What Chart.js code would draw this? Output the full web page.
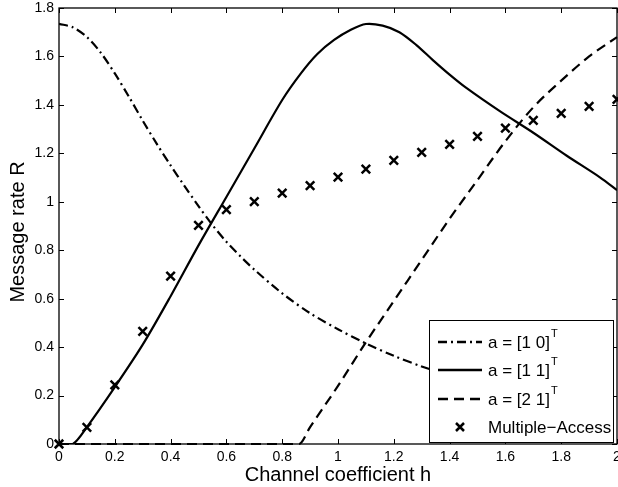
<!DOCTYPE html>
<html>
<head>
<meta charset="utf-8">
<script src="https://cdn.jsdelivr.net/npm/chart.js@4.4.0/dist/chart.umd.min.js"></script>
<style>
  body { margin: 0; background: #fff; }
  #wrap { width: 618px; height: 487px; }
</style>
</head>
<body>
<div id="wrap"><canvas id="rateChart" width="618" height="487"></canvas></div>
<script>
// Values
const xTicks = [0, 0.2, 0.4, 0.6, 0.8, 1, 1.2, 1.4, 1.6, 1.8, 2];
const yTicks = [0, 0.2, 0.4, 0.6, 0.8, 1, 1.2, 1.4, 1.6, 1.8];

// Multiple-Access (markers)
const maH = [0, 0.1, 0.2, 0.3, 0.4, 0.5, 0.6, 0.7, 0.8, 0.9, 1.0, 1.1, 1.2, 1.3, 1.4, 1.5, 1.6, 1.7, 1.8, 1.9, 2.0];
const maRate = [0, 0.069, 0.244, 0.465, 0.693, 0.903, 0.968, 1.001, 1.036, 1.067, 1.102, 1.135, 1.171, 1.204, 1.237, 1.270, 1.304, 1.336, 1.365, 1.394, 1.423];

// a = [1 0]^T
const h10 = [0, 0.05, 0.1, 0.15, 0.2, 0.25, 0.3, 0.35, 0.4, 0.45, 0.5, 0.55, 0.6, 0.65, 0.7, 0.8, 0.9, 1.0, 1.1, 1.2, 1.3, 1.34];
const rate10 = [1.735, 1.72, 1.68, 1.615, 1.53, 1.435, 1.335, 1.24, 1.15, 1.065, 0.982, 0.904, 0.835, 0.775, 0.72, 0.622, 0.54, 0.474, 0.415, 0.364, 0.32, 0.305];

// a = [1 1]^T
const h11 = [0, 0.05, 0.1, 0.2, 0.3, 0.4, 0.5, 0.6, 0.7, 0.8, 0.867, 0.926, 0.986, 1.046, 1.1, 1.16, 1.22, 1.28, 1.34, 1.4, 1.46, 1.58, 1.7, 1.82, 1.94, 2.0];
const rate11 = [0, 0, 0.07, 0.235, 0.41, 0.61, 0.82, 1.02, 1.22, 1.42, 1.53, 1.61, 1.668, 1.71, 1.734, 1.727, 1.70, 1.648, 1.585, 1.525, 1.47, 1.374, 1.285, 1.19, 1.10, 1.048];

// a = [2 1]^T
const h21 = [0, 0.86, 0.9, 1.0, 1.1, 1.2, 1.3, 1.4, 1.5, 1.6, 1.7, 1.8, 1.9, 2.0];
const rate21 = [0, 0, 0.07, 0.24, 0.42, 0.59, 0.76, 0.93, 1.09, 1.25, 1.39, 1.50, 1.60, 1.68];

const FONT = '"Liberation Sans", Arial, Helvetica, sans-serif';
const DASH_DOT = [9, 4, 2, 4];
const DASHED = [10, 6];

function pts(xs, ys) {
  return xs.map((x, i) => ({ x: x, y: ys[i] }));
}

// Frame with inward ticks, axis titles
const framePlugin = {
  id: 'frame',
  afterDatasetsDraw(chart) {
    const { ctx, chartArea: a, scales: { x, y } } = chart;
    ctx.save();
    ctx.strokeStyle = '#000';
    ctx.lineWidth = 1.3;
    ctx.strokeRect(a.left, a.top, a.right - a.left, a.bottom - a.top);
    ctx.lineWidth = 1;
    ctx.beginPath();
    xTicks.forEach(v => {
      let px = Math.round(x.getPixelForValue(v)) + 0.5;
      ctx.moveTo(px, a.bottom); ctx.lineTo(px, a.bottom - 5);
      ctx.moveTo(px, a.top); ctx.lineTo(px, a.top + 5);
    });
    yTicks.forEach(v => {
      let py = Math.round(y.getPixelForValue(v)) + 0.5;
      ctx.moveTo(a.left, py); ctx.lineTo(a.left + 5, py);
      ctx.moveTo(a.right, py); ctx.lineTo(a.right - 5, py);
    });
    ctx.stroke();

    // axis titles
    ctx.fillStyle = '#000';
    ctx.font = '20px ' + FONT;
    ctx.textAlign = 'center';
    ctx.textBaseline = 'middle';
    ctx.fillText('Channel coefficient h', (a.left + a.right) / 2, 475);
    ctx.translate(18, 232);
    ctx.rotate(-Math.PI / 2);
    ctx.fillText('Message rate R', 0, 0);
    ctx.restore();
  }
};

// Legend box in the lower right corner
const legendPlugin = {
  id: 'boxLegend',
  afterDraw(chart) {
    const ctx = chart.ctx;
    const box = { x: 429.5, y: 320.5, w: 184, h: 122 };
    ctx.save();
    ctx.fillStyle = '#fff';
    ctx.fillRect(box.x, box.y, box.w, box.h);
    ctx.strokeStyle = '#000';
    ctx.lineWidth = 1;
    ctx.strokeRect(box.x, box.y, box.w, box.h);

    const rows = [
      { label: 'a = [1 0]', sup: 'T', dash: DASH_DOT },
      { label: 'a = [1 1]', sup: 'T', dash: [] },
      { label: 'a = [2 1]', sup: 'T', dash: DASHED },
      { label: 'Multiple\u2212Access', sup: '', marker: true }
    ];
    const rowY = [342, 370, 399, 427];
    rows.forEach((r, i) => {
      const yy = rowY[i];
      ctx.strokeStyle = '#000';
      ctx.lineWidth = 2.5;
      if (r.marker) {
        ctx.setLineDash([]);
        ctx.beginPath();
        ctx.moveTo(456, yy - 4); ctx.lineTo(464, yy + 4);
        ctx.moveTo(464, yy - 4); ctx.lineTo(456, yy + 4);
        ctx.stroke();
      } else {
        ctx.setLineDash(r.dash);
        ctx.beginPath();
        ctx.moveTo(438, yy); ctx.lineTo(482, yy);
        ctx.stroke();
      }
      ctx.setLineDash([]);
      ctx.fillStyle = '#000';
      ctx.font = '17px ' + FONT;
      ctx.textAlign = 'left';
      ctx.textBaseline = 'middle';
      ctx.fillText(r.label, 488, yy + 1);
      if (r.sup) {
        const w = ctx.measureText(r.label).width;
        ctx.font = '11px ' + FONT;
        ctx.fillText(r.sup, 489 + w, yy - 8);
      }
    });
    ctx.restore();
  }
};

new Chart(document.getElementById('rateChart'), {
  type: 'line',
  data: {
    datasets: [
      {
        label: 'a = [1 0]',
        data: pts(h10, rate10),
        borderColor: '#000',
        borderWidth: 2.2,
        borderDash: DASH_DOT,
        pointRadius: 0,
        tension: 0.3,
        fill: false
      },
      {
        label: 'a = [1 1]',
        data: pts(h11, rate11),
        borderColor: '#000',
        borderWidth: 2.2,
        pointRadius: 0,
        tension: 0.3,
        fill: false
      },
      {
        label: 'a = [2 1]',
        data: pts(h21, rate21),
        borderColor: '#000',
        borderWidth: 2.2,
        borderDash: DASHED,
        pointRadius: 0,
        cubicInterpolationMode: 'monotone',
        fill: false,
        clip: 2
      },
      {
        label: 'Multiple-Access',
        data: pts(maH, maRate),
        showLine: false,
        pointStyle: 'crossRot',
        pointRadius: 6,
        pointBorderWidth: 2.5,
        pointBorderColor: '#000',
        clip: false
      }
    ]
  },
  options: {
    responsive: false,
    animation: false,
    layout: { autoPadding: false, padding: { top: 8, right: 1, left: 0, bottom: 0 } },
    plugins: { legend: { display: false }, tooltip: { enabled: false } },
    scales: {
      x: {
        type: 'linear',
        min: 0, max: 2,
        grid: { display: false, drawTicks: false },
        border: { display: false },
        ticks: {
          stepSize: 0.2,
          padding: 5,
          color: '#000',
          font: { family: FONT, size: 14 },
          maxRotation: 0,
          callback: v => String(+v.toFixed(1))
        },
        afterFit(s) { s.height = 43; s.paddingLeft = 0; s.paddingRight = 0; }
      },
      y: {
        min: 0, max: 1.8,
        grid: { display: false, drawTicks: false },
        border: { display: false },
        ticks: {
          stepSize: 0.2,
          padding: 5,
          color: '#000',
          font: { family: FONT, size: 14 },
          callback: v => String(+v.toFixed(1))
        },
        afterFit(s) { s.width = 59; s.paddingTop = 0; s.paddingBottom = 0; }
      }
    }
  },
  plugins: [framePlugin, legendPlugin]
});
</script>
</body>
</html>
